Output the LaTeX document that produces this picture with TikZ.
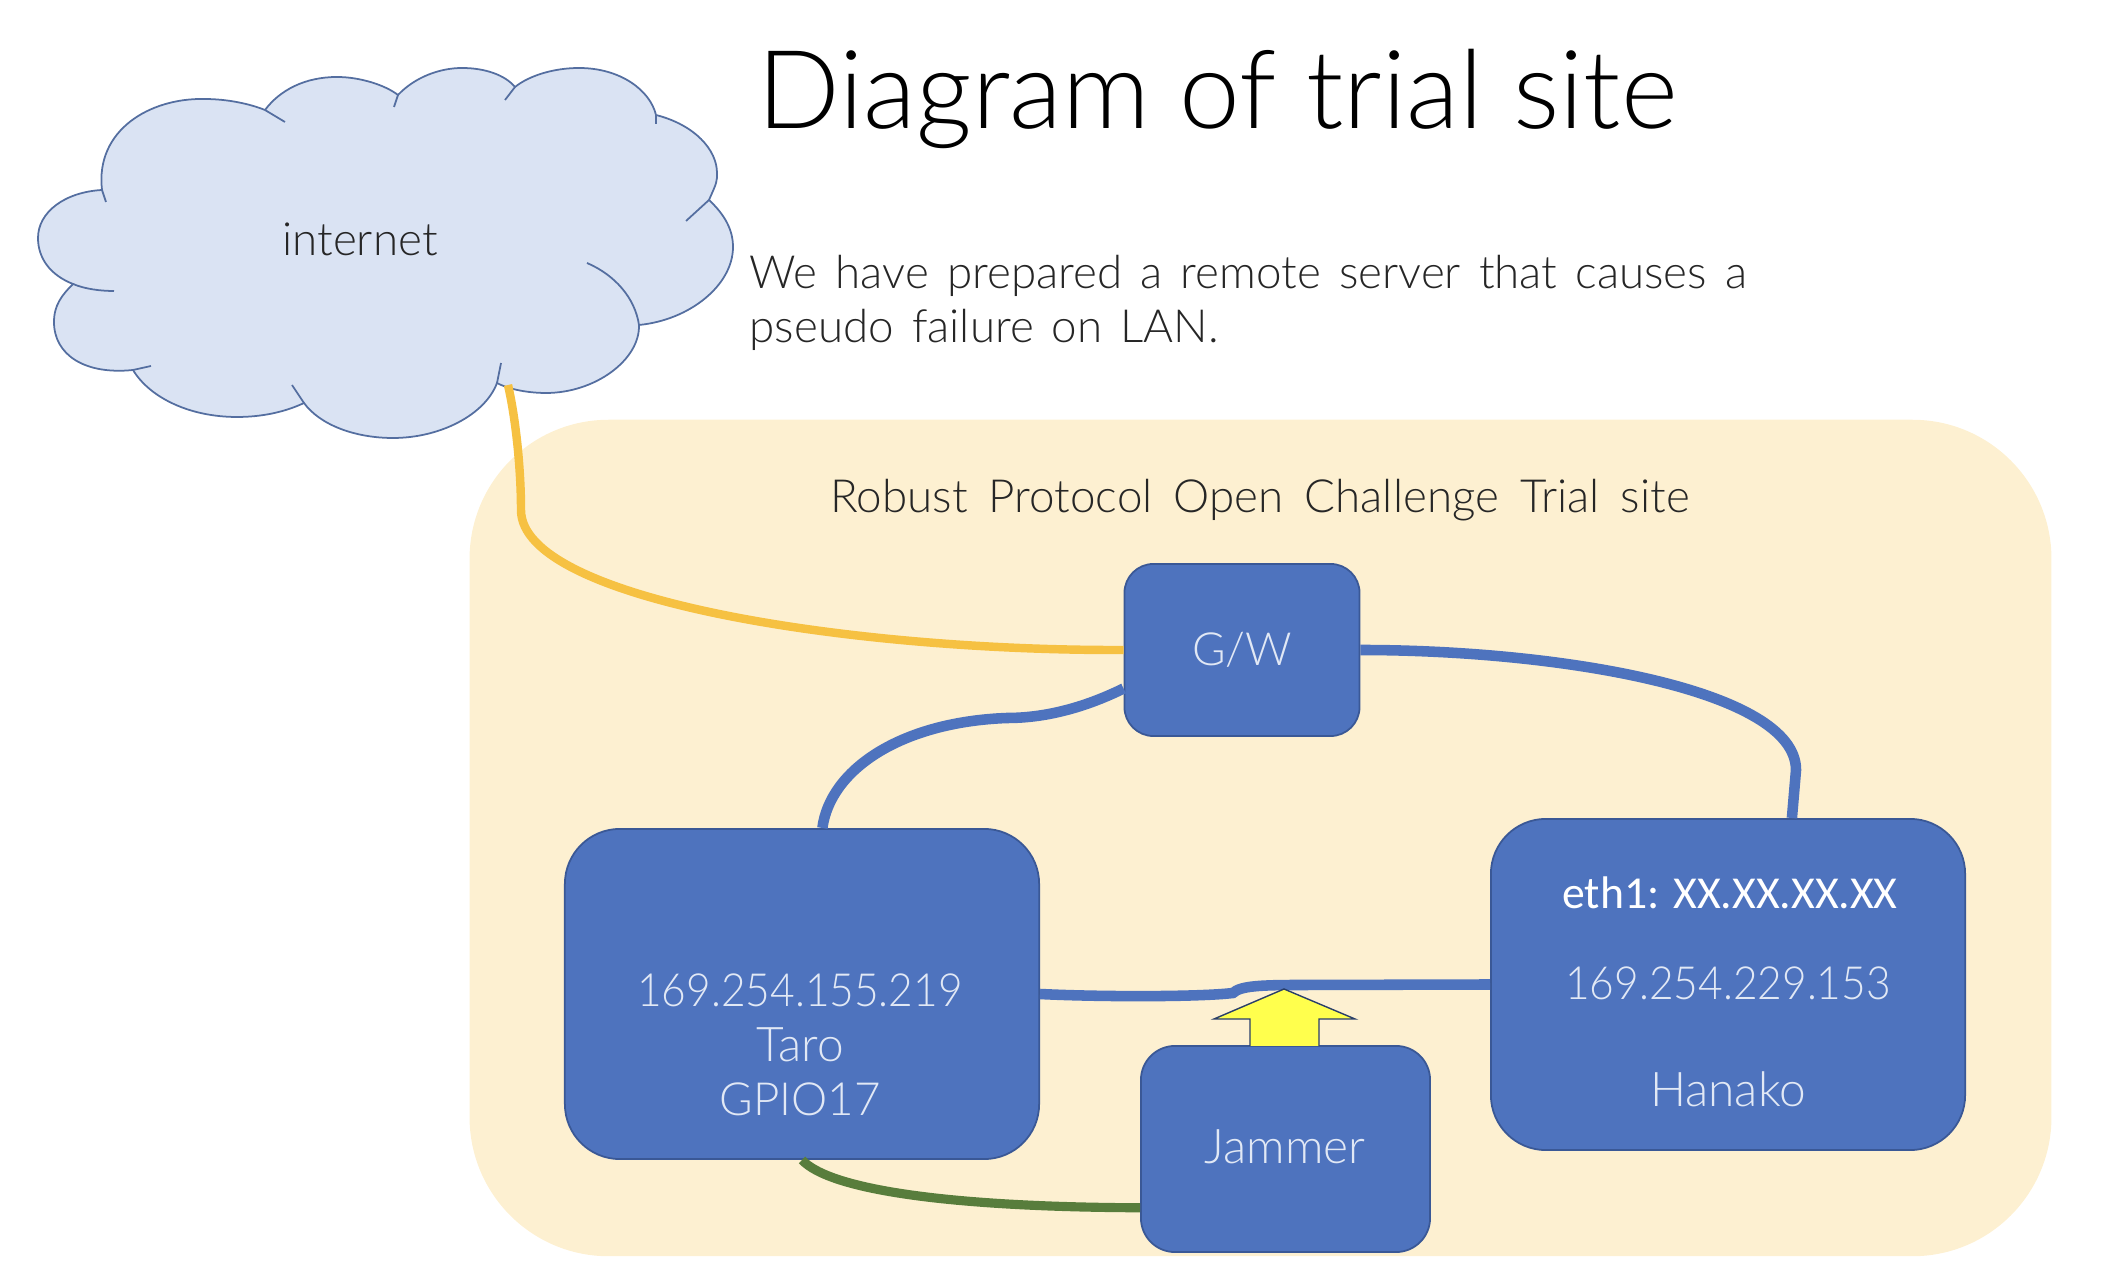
\documentclass[tikz,border=0pt]{standalone}
\usepackage{fontspec}
\setmainfont{Lato}[UprightFont=* Light]
\newfontfamily\ethfont{Carlito}
\newfontfamily\ipfont{Lato}[UprightFont=* Light,FakeStretch=.93]
\definecolor{boxblue}{RGB}{78,115,190}
\definecolor{boxedge}{RGB}{58,88,150}
\definecolor{sitefill}{RGB}{253,240,209}
\definecolor{cloudfill}{RGB}{218,227,243}
\definecolor{cloudedge}{RGB}{84,110,160}
\definecolor{uplink}{RGB}{246,193,66}
\definecolor{gpiolink}{RGB}{88,125,60}
\definecolor{jamfill}{RGB}{255,255,77}
\definecolor{boxtext}{RGB}{225,232,245}
\tikzstyle{box}=[draw=boxedge,fill=boxblue,text=boxtext,inner sep=0pt,line width=.5pt]
\tikzset{bluelink/.style={line width=3pt,color=boxblue}}
\tikzset{boxlabel/.style={text=boxtext,font=\fontsize{13}{15}\selectfont,inner sep=0pt}}
\tikzset{iplabel/.style={text=boxtext,font=\ipfont\fontsize{13}{15}\selectfont,inner sep=0pt}}
\tikzset{namelabel/.style={text=boxtext,font=\fontsize{13.6}{15}\selectfont,inner sep=0pt}}
\tikzset{blacklabel/.style={text=black!85,font={\fontsize{13}{15}\selectfont\spaceskip=5.15pt\relax},inner sep=0pt}}
\begin{document}
\begin{tikzpicture}[x=.01cm,y=-.01cm]
  \useasboundingbox (0,0) rectangle (2106,1280);

  %% Site background
  \draw (1260.5,838) node[fill=sitefill,rounded corners=1.39cm,minimum width=15.81cm,minimum height=8.36cm,inner sep=0pt] (site) {};

  %% Cloud
  \filldraw[fill=cloudfill,draw=cloudedge,line width=.5pt]
    (102,190) .. controls (95,130) and (150,98) .. (204,99) .. controls (228,99) and (250,104) .. (265,110)
    .. controls (280,90) and (305,77) .. (337,77) .. controls (360,77) and (385,85) .. (398,95)
    .. controls (415,77) and (440,68) .. (462,68) .. controls (485,68) and (505,75) .. (515,87)
    .. controls (530,75) and (555,68) .. (579,68) .. controls (620,68) and (650,90) .. (656,115)
    .. controls (695,125) and (717,150) .. (717,173) .. controls (717,182) .. (709,200)
    .. controls (725,215) and (733,230) .. (733,247) .. controls (733,285) and (690,320) .. (639,325)
    .. controls (640,360) and (595,393) .. (546,393) .. controls (530,393) and (510,390) .. (497,383)
    .. controls (485,415) and (440,438) .. (393,438) .. controls (355,438) and (320,425) .. (304,403)
    .. controls (285,412) and (262,417) .. (237,417) .. controls (190,417) and (150,398) .. (133,370)
    .. controls (85,375) and (54,355) .. (54,322) .. controls (54,305) and (62,295) .. (73,284)
    .. controls (50,275) and (38,258) .. (38,238) .. controls (38,212) and (65,192) .. (102,190) -- cycle;
  \draw[draw=cloudedge,line width=.5pt] (265,110) -- (285,122) (398,95) -- (394,107) (515,87) -- (505,100)
    (656,115) -- (656,124) (709,200) -- (686,221) (497,383) -- (501,363) (304,403) -- (292,385)
    (133,370) -- (151,366) (102,190) -- (106,202);
  \draw[draw=cloudedge,line width=.5pt] (639,325) .. controls (635,298) and (615,275) .. (587,263);
  \draw[draw=cloudedge,line width=.5pt] (73,284) .. controls (85,289) and (100,291) .. (114,291);
  \coordinate (cloudfoot) at (508,385);
  \draw (360,239) node[blacklabel] (internet) {internet};

  %% Title and text
  \draw (757,129) node[anchor=base west,inner sep=0pt,text=black,font=\fontsize{31}{36}\selectfont] (title) {Diagram of trial site};
  \draw (749,289) node[anchor=base west,blacklabel] (textone) {We have prepared a remote server that causes a};
  \draw (749,343) node[anchor=base west,blacklabel] (texttwo) {pseudo failure on LAN.};
  \draw (1260,500) node[blacklabel,font={\fontsize{13}{15}\selectfont\spaceskip=6pt\relax}] (sitename) {Robust Protocol Open Challenge Trial site};

  %% Boxes
  \draw (1242,650) node[box,rounded corners=.29cm,minimum width=2.35cm,minimum height=1.72cm] (gw) {};
  \draw (802,994) node[box,rounded corners=.55cm,minimum width=4.74cm,minimum height=3.30cm] (taro) {};
  \draw (1728,984.5) node[box,rounded corners=.55cm,minimum width=4.74cm,minimum height=3.31cm] (hanako) {};
  \draw (1285.5,1149) node[box,rounded corners=.34cm,minimum width=2.89cm,minimum height=2.06cm] (jammer) {};

  %% Box texts
  \draw (1242,650) node[boxlabel] (gwname) {G/W};
  \draw (800,990) node[iplabel] (taroip) {169.254.155.219};
  \draw (800,1045) node[namelabel] (taroname) {Taro};
  \draw (800,1099) node[boxlabel] (tarogpio) {GPIO17};
  \draw (1730,893) node[boxlabel,text=white,font=\ethfont\fontsize{13}{16}\selectfont] (hanakoeth) {eth1: XX.XX.XX.XX};
  \draw (1728,983) node[iplabel] (hanakoip) {169.254.229.153};
  \draw (1728,1089) node[namelabel] (hanakoname) {Hanako};
  \draw (1285,1147) node[namelabel] (jammername) {Jammer};

  %% Links
  \draw[line width=2.4pt,color=uplink] (cloudfoot) .. controls (516,420) and (521,470) .. (521,510) .. controls (521,600) and (850,651) .. (gw.west);
  \draw[bluelink] (gw.east) .. controls (1560,650) and (1796,690) .. (1796,770) -- (hanako.69);
  \draw[bluelink] (taro.83) .. controls (830,770) and (900,722) .. (1007,718) .. controls (1050,718) and (1090,705) .. (gw.198);
  \draw[bluelink] (taro.east) .. controls (1100,997) and (1200,997) .. (1233,993) .. controls (1240,986) and (1260,985) .. (1300,985) -- (hanako.west);
  \draw[line width=2.6pt,color=gpiolink] (taro.south) .. controls (830,1190) and (950,1207) .. (jammer.202);

  %% Jamming arrow
  \filldraw[fill=jamfill,draw=boxedge!70!black,line width=.4pt] (1250,1046) -- (1250,1019) -- (1214,1019) -- (1284,989) -- (1355,1019) -- (1319,1019) -- (1319,1046);
\end{tikzpicture}
\end{document}
